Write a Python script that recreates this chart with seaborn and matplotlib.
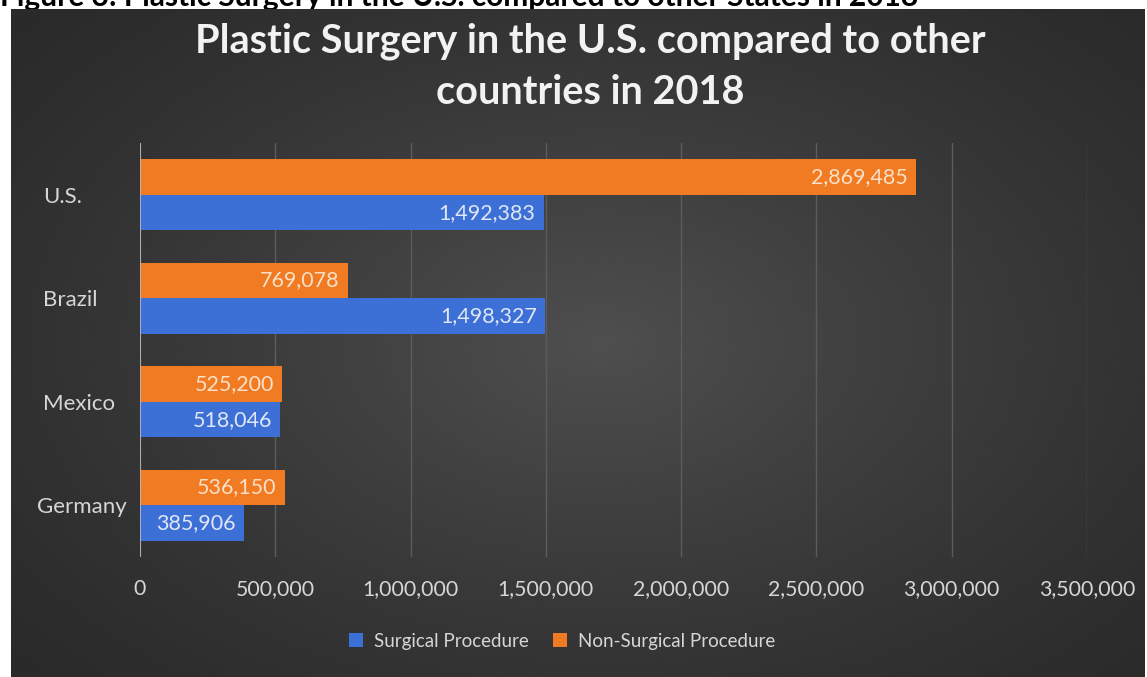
import numpy as np
import pandas as pd
import matplotlib
matplotlib.use("Agg")
import matplotlib.pyplot as plt
from matplotlib.patches import Patch
from matplotlib.ticker import FuncFormatter, MultipleLocator
import seaborn as sns

# Data
countries = ["U.S.", "Brazil", "Mexico", "Germany"]
surgical = [1492383, 1498327, 518046, 385906]
non_surgical = [2869485, 769078, 525200, 536150]
series_names = ["Surgical Procedure", "Non-Surgical Procedure"]
title = "Plastic Surgery in the U.S. compared to other\ncountries in 2018"
caption = "Figure 3: Plastic Surgery in the U.S. compared to other States in 2018"

df = pd.DataFrame({
    "country": countries * 2,
    "value": surgical + non_surgical,
    "kind": [series_names[0]] * len(countries) + [series_names[1]] * len(countries),
})

sns.set_theme(style="white")
FONT = ["Lato", "DejaVu Sans"]
plt.rcParams["font.family"] = FONT

BLUE = "#3d70d6"
ORANGE = "#f07b22"
TEXT = "#d6d6d6"

W, H = 1147, 677
fig = plt.figure(figsize=(W / 100, H / 100), dpi=100, facecolor="white")

# Dark panel with a soft radial glow
bg = fig.add_axes([11 / W, 0, (W - 13) / W, (H - 9) / H], zorder=0)
yy, xx = np.mgrid[0:1:300j, 0:1:500j]
r = np.sqrt(((xx - 0.52) / 0.75) ** 2 + ((yy - 0.5) / 0.8) ** 2)
shade = np.clip(1 - r, 0, 1) ** 1.3
img = 0.16 + 0.15 * shade
bg.imshow(img, cmap="gray", vmin=0, vmax=1, aspect="auto", extent=[0, 1, 0, 1],
          interpolation="bicubic")
bg.set_axis_off()

# Caption above the panel (partly cut by the figure edge)
fig.text(0.0, 1 - 6 / H, caption, ha="left", va="baseline", fontsize=21.5,
         fontweight="bold", color="black", zorder=-1)

ax = fig.add_axes([140 / W, 1 - 557 / H, (1087 - 140) / W, (557 - 143) / H], zorder=1)
ax.set_facecolor("none")

sns.barplot(data=df, y="country", x="value", hue="kind", order=countries,
            hue_order=[series_names[1], series_names[0]],
            palette={series_names[0]: BLUE, series_names[1]: ORANGE},
            orient="h", width=0.69, saturation=1, legend=False, ax=ax,
            linewidth=0, edgecolor="none")

ax.set_xlim(0, 3500000)
ax.xaxis.set_major_locator(MultipleLocator(500000))
ax.xaxis.set_major_formatter(FuncFormatter(lambda v, p: f"{int(v):,}"))
ax.set_xlabel("")
ax.set_ylabel("")
for s in ax.spines.values():
    s.set_visible(False)
ax.grid(axis="x", color="#5c5c5c", linewidth=1)
ax.set_axisbelow(True)
ax.axvline(0, color="#bdbdbd", linewidth=1.2, zorder=3)
ax.tick_params(axis="x", length=0, pad=16, labelsize=15.3, colors=TEXT)
ax.tick_params(axis="y", length=0, pad=0, labelsize=16, colors=TEXT)
axw = 1087 - 140
for lbl in ax.get_yticklabels():
    lbl.set_horizontalalignment("left")
    lbl.set_x(-(103 if lbl.get_text() == "Germany" else 97) / axw)

# Value labels inside bar ends
for bars, col in zip(ax.containers, ["#fbe0c8", "#dfe7f6"]):
    for patch in bars:
        v = patch.get_width()
        ax.annotate(f"{int(round(v)):,}", (v, patch.get_y() + patch.get_height() / 2),
                    xytext=(-6, 0), textcoords="offset points", ha="right",
                    va="center", fontsize=15.5, color=col, zorder=4)

fig.text(590 / W, 1 - 67 / H, title, ha="center", va="center", fontsize=28.5,
         fontweight="bold", color="#f2f2f2", linespacing=1.45, zorder=5)

handles = [Patch(facecolor=BLUE, edgecolor="none"), Patch(facecolor=ORANGE, edgecolor="none")]
leg = fig.legend(handles, series_names, loc="center", bbox_to_anchor=(562 / W, 1 - 641 / H),
                 ncol=2, frameon=False, fontsize=13.5, handlelength=0.75, handleheight=0.75,
                 handletextpad=0.6, columnspacing=1.3)
for t in leg.get_texts():
    t.set_color(TEXT)

fig.savefig("out.png", dpi=100, facecolor="white")
